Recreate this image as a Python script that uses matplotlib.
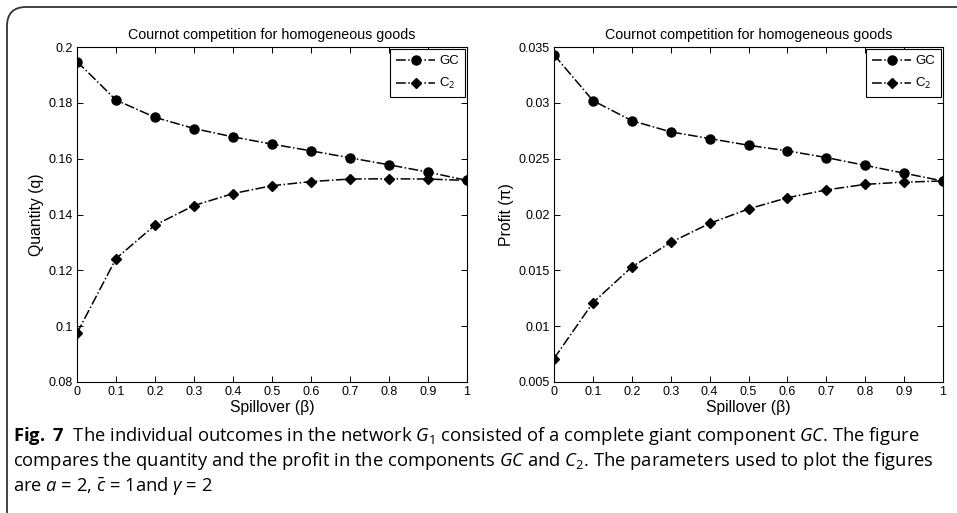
import matplotlib
matplotlib.use("Agg")
import matplotlib.pyplot as plt
import numpy as np
from matplotlib import font_manager
from matplotlib.patches import FancyBboxPatch

# data
beta = [0.0, 0.1, 0.2, 0.3, 0.4, 0.5, 0.6, 0.7, 0.8, 0.9, 1.0]
qty_gc = [0.1948, 0.1810, 0.1748, 0.1708, 0.1678, 0.1652, 0.1628, 0.1603, 0.1578, 0.1552, 0.1522]
qty_c2 = [0.0975, 0.1242, 0.1362, 0.1432, 0.1475, 0.1503, 0.1518, 0.1527, 0.1528, 0.1527, 0.1522]
profit_gc = [0.0343, 0.0302, 0.0284, 0.0274, 0.0268, 0.0262, 0.0257, 0.0251, 0.0244, 0.0237, 0.0230]
profit_c2 = [0.0071, 0.0121, 0.0153, 0.0175, 0.0192, 0.0205, 0.0215, 0.0222, 0.0227, 0.0229, 0.0230]

x_ticks = [0, 0.1, 0.2, 0.3, 0.4, 0.5, 0.6, 0.7, 0.8, 0.9, 1]
x_ticklabels = ["0", "0.1", "0.2", "0.3", "0.4", "0.5", "0.6", "0.7", "0.8", "0.9", "1"]
q_ticks = [0.08, 0.10, 0.12, 0.14, 0.16, 0.18, 0.20]
q_ticklabels = ["0.08", "0.1", "0.12", "0.14", "0.16", "0.18", "0.2"]
p_ticks = [0.005, 0.01, 0.015, 0.02, 0.025, 0.03, 0.035]
p_ticklabels = ["0.005", "0.01", "0.015", "0.02", "0.025", "0.03", "0.035"]

title = "Cournot competition for homogeneous goods"

installed = {f.name for f in font_manager.fontManager.ttflist}
cap_font = "Liberation Sans Narrow" if "Liberation Sans Narrow" in installed else "Open Sans"
plot_font = "Liberation Sans"

plt.rcParams["font.family"] = [plot_font, "DejaVu Sans"]
plt.rcParams["mathtext.fontset"] = "custom"
plt.rcParams["mathtext.rm"] = cap_font
plt.rcParams["mathtext.it"] = cap_font + ":italic"
plt.rcParams["mathtext.bf"] = cap_font + ":bold"

W, H = 957, 513
fig = plt.figure(figsize=(W / 100, H / 100), dpi=100)

# rounded frame (left + top edges visible)
frame = FancyBboxPatch((7 / W, -30 / H), 1.2, (H - 7 + 30) / H,
                       boxstyle="round,pad=0,rounding_size=0.02",
                       transform=fig.transFigure, fill=False,
                       edgecolor="#333333", linewidth=1.3, mutation_aspect=W / H)
fig.patches.append(frame)


def draw_panel(rect, gc, c2, yticks, ylabels, ylabel):
    ax = fig.add_axes(rect)
    ax.plot(beta, gc, linestyle="-.", color="black", marker="o", markersize=6.5,
            linewidth=1.1, label="GC")
    ax.plot(beta, c2, linestyle="-.", color="black", marker="D", markersize=5.5,
            linewidth=1.1, label="C$_2$")
    ax.set_xlim(0, 1)
    ax.set_ylim(yticks[0], yticks[-1])
    ax.set_xticks(x_ticks)
    ax.set_xticklabels(x_ticklabels)
    ax.set_yticks(yticks)
    ax.set_yticklabels(ylabels)
    ax.tick_params(direction="in", top=True, right=True, length=4, width=0.7,
                   labelsize=9, pad=3)
    for s in ax.spines.values():
        s.set_linewidth(0.8)
    ax.set_title(title, fontsize=10.3, pad=6)
    ax.set_xlabel("Spillover (\u03b2)", fontsize=11.3, labelpad=1)
    ax.set_ylabel(ylabel, fontsize=11.3, labelpad=3)
    leg = ax.legend(loc="upper right", fontsize=9.5, handlelength=3.0,
                    handletextpad=0.3, borderpad=0.45, labelspacing=0.7,
                    fancybox=False, edgecolor="black", framealpha=1,
                    borderaxespad=0.15)
    leg.get_frame().set_linewidth(0.8)
    return ax


draw_panel([77 / W, 1 - 382 / H, 390 / W, 335 / H], qty_gc, qty_c2,
           q_ticks, q_ticklabels, "Quantity (q)")
draw_panel([554 / W, 1 - 382 / H, 389 / W, 335 / H], profit_gc, profit_c2,
           p_ticks, p_ticklabels, "Profit (\u03c0)")

# caption
cap_size = 13.2
fig.text(13 / W, 1 - 436 / H,
         r"$\mathbf{Fig.\ 7}$  The individual outcomes in the network $G_1$ consisted of a "
         r"complete giant component $GC$. The figure",
         fontsize=cap_size, family=cap_font, va="center", ha="left")
fig.text(13 / W, 1 - 461 / H,
         r"compares the quantity and the profit in the components $GC$ and $C_2$. "
         r"The parameters used to plot the figures",
         fontsize=cap_size, family=cap_font, va="center", ha="left")
fig.text(13 / W, 1 - 486 / H,
         r"are $a$ = 2, $\bar{c}$ = 1and $\gamma$ = 2",
         fontsize=cap_size, family=cap_font, va="center", ha="left")

fig.savefig("out.png", dpi=100)
